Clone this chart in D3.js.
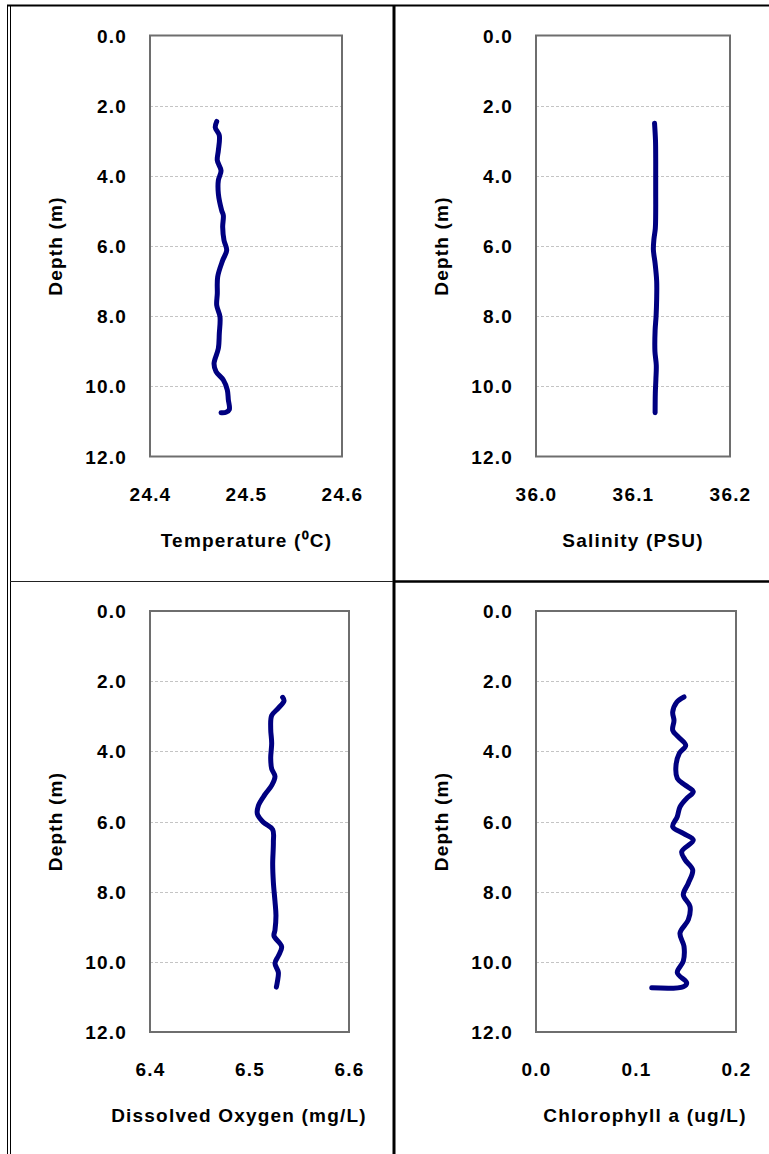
<!DOCTYPE html>
<html>
<head>
<meta charset="utf-8">
<script src="https://cdn.jsdelivr.net/npm/d3@7"></script>
<style>
  html, body { margin: 0; padding: 0; background: #fff; }
  svg text { font-family: "Liberation Sans", Arial, sans-serif; font-weight: bold; font-size: 19px; letter-spacing: 1.2px; fill: #000; }
</style>
</head>
<body>
<svg id="chart" width="769" height="1154"></svg>
<script>
// ---------- DATA ----------
const depthTicks = [0, 2, 4, 6, 8, 10, 12];
const gridDepths = [2, 4, 6, 8, 10];

const tempTicks = [24.4, 24.5, 24.6];
const tempDepth = [2.45, 2.62, 2.85, 3.28, 3.56, 3.85, 4.13, 4.51, 4.99, 5.13, 5.46, 5.84, 6.12, 6.41, 6.88, 7.36, 7.69, 8.02, 8.49, 8.92, 9.35, 9.58, 9.82, 10.1, 10.38, 10.66, 10.74, 10.75];
const tempValues = [24.4695, 24.4680, 24.4722, 24.4712, 24.4701, 24.4740, 24.4712, 24.4712, 24.4747, 24.4764, 24.4757, 24.4771, 24.4799, 24.4757, 24.4705, 24.4701, 24.4695, 24.4729, 24.4722, 24.4712, 24.4667, 24.4688, 24.4764, 24.4805, 24.4816, 24.4826, 24.4792, 24.4740];

const salTicks = [36.0, 36.1, 36.2];
const salDepth = [2.5, 3.0, 3.5, 4.0, 4.5, 5.0, 5.5, 5.8, 6.1, 6.5, 7.0, 7.5, 8.0, 8.4, 9.0, 9.4, 9.8, 10.2, 10.75];
const salValues = [36.1222, 36.1232, 36.1234, 36.1234, 36.1234, 36.1234, 36.1230, 36.1216, 36.1210, 36.1228, 36.1244, 36.1244, 36.1238, 36.1228, 36.1226, 36.1240, 36.1236, 36.1230, 36.1228];

const doTicks = [6.4, 6.5, 6.6];
const doDepth = [2.46, 2.56, 2.77, 2.98, 3.35, 3.77, 4.19, 4.5, 4.71, 4.97, 5.23, 5.55, 5.78, 6.02, 6.23, 6.59, 7.22, 7.74, 8.27, 8.68, 9.1, 9.26, 9.57, 9.83, 10.04, 10.3, 10.57, 10.72];
const doValues = [6.5333, 6.5347, 6.5290, 6.5223, 6.5213, 6.5223, 6.5213, 6.5223, 6.5256, 6.5223, 6.5156, 6.5089, 6.5079, 6.5139, 6.5233, 6.5240, 6.5233, 6.5240, 6.5256, 6.5266, 6.5256, 6.5246, 6.5323, 6.5290, 6.5256, 6.5290, 6.5280, 6.5270];

const chlTicks = [0.0, 0.1, 0.2];
const chlDepth = [2.45, 2.6, 2.88, 3.12, 3.4, 3.59, 3.83, 4.06, 4.4, 4.77, 4.96, 5.15, 5.34, 5.58, 5.86, 6.15, 6.34, 6.53, 6.86, 7.09, 7.38, 7.76, 8.09, 8.42, 8.8, 9.18, 9.56, 9.98, 10.31, 10.6, 10.71, 10.74];
const chlValues = [0.148, 0.1407, 0.1367, 0.138, 0.1367, 0.1423, 0.1497, 0.1433, 0.140, 0.1413, 0.149, 0.1573, 0.1507, 0.144, 0.1413, 0.1367, 0.1473, 0.1573, 0.1457, 0.149, 0.1567, 0.1523, 0.1473, 0.154, 0.1523, 0.144, 0.148, 0.1473, 0.1413, 0.1507, 0.1473, 0.1157];

const xTitles = ["Temperature (\u2070C)", "Salinity (PSU)", "Dissolved Oxygen  (mg/L)", "Chlorophyll a (ug/L)"];
const yTitle = "Depth (m)";

// ---------- LAYOUT ----------
const layouts = [
  { x0: 150, x1: 342, y0: 35.5, y1: 456.5, yTitleX: 55, titleX: 246.5 },
  { x0: 536, x1: 730, y0: 35.5, y1: 456.5, yTitleX: 441, titleX: 633 },
  { x0: 150, x1: 349, y0: 611, y1: 1032, yTitleX: 55, titleX: 239 },
  { x0: 536, x1: 736, y0: 611, y1: 1032, yTitleX: 441, titleX: 645 }
];
const panels = [
  { ticks: tempTicks, depth: tempDepth, values: tempValues },
  { ticks: salTicks, depth: salDepth, values: salValues },
  { ticks: doTicks, depth: doDepth, values: doValues },
  { ticks: chlTicks, depth: chlDepth, values: chlValues }
];

const svg = d3.select("#chart");

// table borders
const border = svg.append("g");
border.append("line").attr("x1", 7).attr("x2", 769).attr("y1", 5.5).attr("y2", 5.5).attr("stroke", "#000").attr("stroke-width", 2);
border.append("line").attr("x1", 7.5).attr("x2", 7.5).attr("y1", 5).attr("y2", 1154).attr("stroke", "#000").attr("stroke-width", 1);
border.append("line").attr("x1", 10.5).attr("x2", 10.5).attr("y1", 5).attr("y2", 1154).attr("stroke", "#000").attr("stroke-width", 1);
border.append("line").attr("x1", 394).attr("x2", 394).attr("y1", 5).attr("y2", 1154).attr("stroke", "#000").attr("stroke-width", 3);
border.append("line").attr("x1", 10).attr("x2", 393).attr("y1", 581.5).attr("y2", 581.5).attr("stroke", "#222").attr("stroke-width", 1);
border.append("line").attr("x1", 394).attr("x2", 769).attr("y1", 581.5).attr("y2", 581.5).attr("stroke", "#000").attr("stroke-width", 2.5);

panels.forEach((p, i) => {
  const L = layouts[i];
  const x = d3.scaleLinear().domain([p.ticks[0], p.ticks[p.ticks.length - 1]]).range([L.x0, L.x1]);
  const y = d3.scaleLinear().domain([0, 12]).range([L.y0, L.y1]);
  const g = svg.append("g");

  // gridlines
  g.selectAll(".grid").data(gridDepths).enter().append("line")
    .attr("x1", L.x0).attr("x2", L.x1)
    .attr("y1", d => Math.round(y(d)) + 0.5).attr("y2", d => Math.round(y(d)) + 0.5)
    .attr("stroke", "#c4c4c4").attr("stroke-width", 1).attr("stroke-dasharray", "3,2");

  // frame
  g.append("rect").attr("x", L.x0).attr("y", L.y0).attr("width", L.x1 - L.x0).attr("height", L.y1 - L.y0)
    .attr("fill", "none").attr("stroke", "#6e6e6e").attr("stroke-width", 2);

  // y axis labels
  const yAxis = d3.axisLeft(y).tickValues(depthTicks).tickSize(0).tickPadding(23).tickFormat(d3.format(".1f"));
  const ya = g.append("g").attr("transform", `translate(${L.x0},0)`).call(yAxis);
  ya.select(".domain").remove();
  ya.selectAll("text").attr("font-size", null).attr("font-family", null).attr("dy", "0.35em");

  // x axis labels
  const xAxis = d3.axisBottom(x).tickValues(p.ticks).tickSize(0).tickPadding(0).tickFormat(d3.format(".1f"));
  const xa = g.append("g").attr("transform", `translate(0,${L.y1 + 37.5})`).call(xAxis);
  xa.select(".domain").remove();
  xa.selectAll("text").attr("font-size", null).attr("font-family", null).attr("y", 0).attr("dy", "0.35em");

  // titles
  g.append("text").attr("x", L.titleX).attr("y", L.y1 + 83.5).attr("dy", "0.35em")
    .attr("text-anchor", "middle").text(xTitles[i]);
  g.append("text").attr("transform", `translate(${L.yTitleX},${(L.y0 + L.y1) / 2}) rotate(-90)`)
    .attr("dy", "0.35em").attr("text-anchor", "middle").text(yTitle);

  // profile line
  const pts = p.depth.map((d, k) => [p.values[k], d]);
  const line = d3.line().x(d => x(d[0])).y(d => y(d[1])).curve(d3.curveCatmullRom.alpha(0.5));
  g.append("path").datum(pts).attr("d", line)
    .attr("fill", "none").attr("stroke", "#000080").attr("stroke-width", 5)
    .attr("stroke-linecap", "round").attr("stroke-linejoin", "round");
});
</script>
</body>
</html>
